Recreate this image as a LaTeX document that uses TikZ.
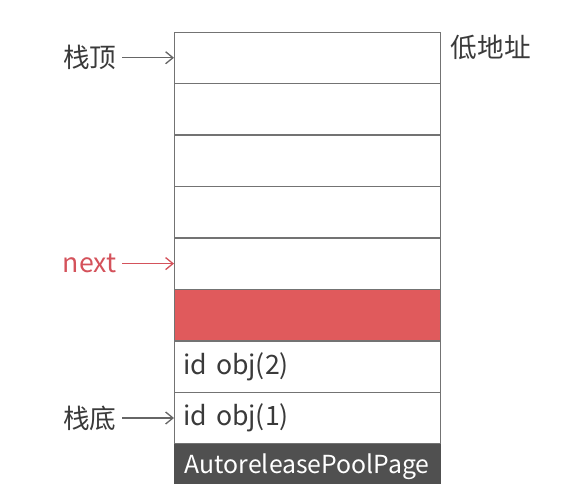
\documentclass[tikz,border=0pt]{standalone}
\usepackage{fontspec}
\setmainfont{Noto Sans CJK SC}
\usepackage{xcolor}
\usetikzlibrary{positioning,arrows.meta}
\definecolor{ptrred}{HTML}{D4525B}
\definecolor{slotred}{HTML}{E05A5C}
\definecolor{pagegray}{HTML}{505050}
\definecolor{txtgray}{HTML}{3A3A3A}

\begin{document}
\begin{tikzpicture}[x=0.75pt, y=-0.75pt,
  slot/.style = {draw=black!55, fill=white, text width=186pt, minimum height=38.2pt,
                 inner xsep=6.75pt, inner ysep=0pt, align=left, text=txtgray,
                 font=\fontsize{20}{22}\selectfont},
  lbl/.style  = {inner sep=0pt, text=txtgray, font=\fontsize{20}{22}\selectfont},
  ptr/.style  = {-{Straight Barb[length=5.5pt,width=9pt]}, black!60, line width=1pt, shorten <=4pt}
]
\useasboundingbox (0,0) rectangle (579,484);
\clip (0,0) rectangle (579,484);

% --- colonne de la page ---
\node[slot, anchor=north west] (row1) at (174,32) {};
\foreach \i [count=\j from 1] in {2,...,5} { \node[slot, below=0pt of row\j] (row\i) {}; }
\node[slot, fill=slotred, below=0pt of row5] (row6) {};
\node[slot, below=0pt of row6] (row7) {id obj(2)};
\node[slot, below=0pt of row7] (row8) {id obj(1)};
\node[slot, fill=pagegray, draw=pagegray, text=white, align=center, minimum height=60pt,
      text depth=31pt, font=\fontsize{18.6}{22}\selectfont, below=0pt of row8] (page) {AutoreleasePoolPage};

% --- pointeurs ---
\node[lbl, left=43pt of row1] (top) {栈顶};
\node[lbl, left=43pt of row5, text=ptrred] (next) {next};
\node[lbl, left=43pt of row8] (bottom) {栈底};
\draw[ptr] (top) -- (row1);
\draw[ptr, ptrred] (next) -- (row5);
\draw[ptr] (bottom) -- (row8);

% --- adresses ---
\node[lbl, below right=2pt and 7.5pt of row1.north east] (low) {低地址};
\end{tikzpicture}
\end{document}
